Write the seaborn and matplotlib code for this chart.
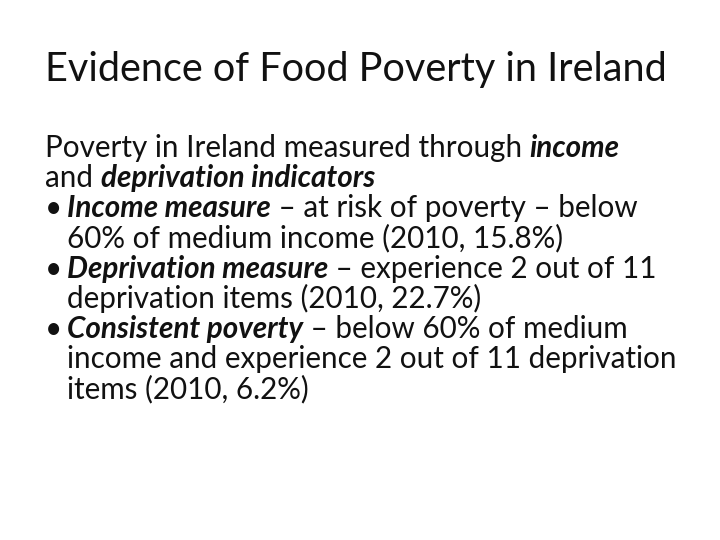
import matplotlib
matplotlib.use("Agg")
import matplotlib.pyplot as plt
import seaborn as sns

sns.set_theme(style="white")
plt.rcParams['font.family'] = ['Lato', 'DejaVu Sans']

title = "Evidence of Food Poverty in Ireland"
# (indent, bullet, y_px, segments[(text, emphasized)])
line_indent = [0, 0, 1, 1, 1, 1, 1, 1, 1]
line_bullet = [False, False, True, False, True, False, True, False, False]
line_y = [157, 187, 217, 247, 278, 308, 338, 368, 398]
line_segments = [
    [("Poverty in Ireland measured through ", False), ("income", True)],
    [("and ", False), ("deprivation indicators", True)],
    [("Income measure", True), (" – at risk of poverty – below", False)],
    [("60% of medium income (2010, 15.8%)", False)],
    [("Deprivation measure", True), (" – experience 2 out of 11", False)],
    [("deprivation items (2010, 22.7%)", False)],
    [("Consistent poverty", True), (" – below 60% of medium", False)],
    [("income and experience 2 out of 11 deprivation", False)],
    [("items (2010, 6.2%)", False)],
]

W, H = 720, 540
fig = plt.figure(figsize=(7.2, 5.4), dpi=100)
fig.patch.set_facecolor("white")
ax = fig.add_axes([0, 0, 1, 1])
ax.set_xlim(0, W)
ax.set_ylim(H, 0)
ax.axis("off")

ax.text(45, 81, title, fontsize=28.5, va="baseline", ha="left", color="#111111")

fig.canvas.draw()
r = fig.canvas.get_renderer()
fs = 21.3
for ind, bul, y, segs in zip(line_indent, line_bullet, line_y, line_segments):
    x0 = 45 if ind == 0 else 67
    if bul:
        ax.text(45, y, "•", fontsize=fs, va="baseline", ha="left", color="#111111")
    x = x0
    for txt, emph in segs:
        t = ax.text(x, y, txt, fontsize=fs, va="baseline", ha="left", color="#111111",
                    fontweight="bold" if emph else "normal",
                    fontstyle="italic" if emph else "normal")
        bb = t.get_window_extent(renderer=r)
        x += bb.width
fig.savefig("out.png", dpi=100)
